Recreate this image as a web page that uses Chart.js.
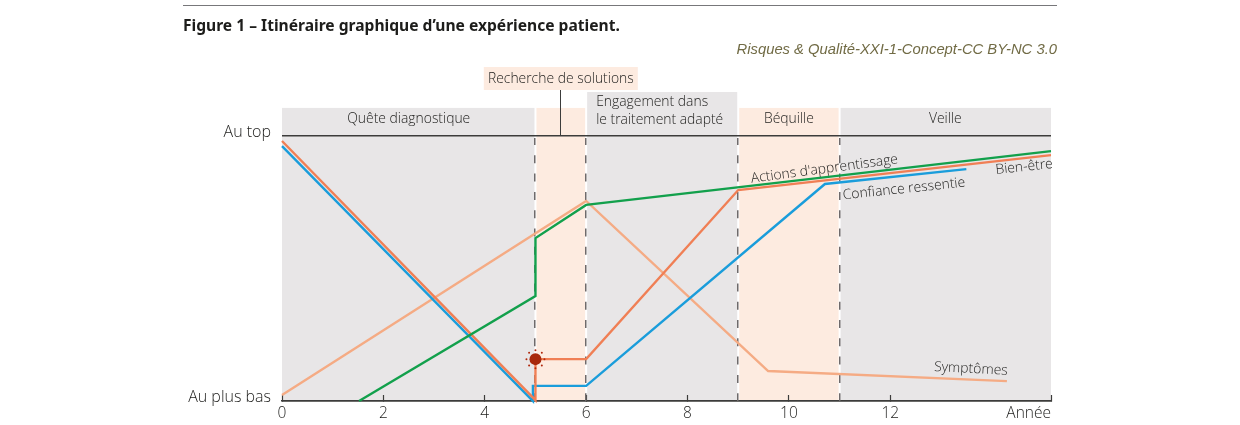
<!DOCTYPE html>
<html lang="fr">
<head>
<meta charset="utf-8">
<title>Itinéraire graphique</title>
<script src="https://cdn.jsdelivr.net/npm/chart.js@4"></script>
<style>
	body { margin: 0; background: #fff; }
	#wrap { position: relative; width: 1240px; height: 425px; overflow: hidden; }
	#rule { position: absolute; left: 183px; top: 5px; width: 874px; height: 1px; background: #77777a; }
	#fig { position: absolute; left: 183px; top: 14px; font: 700 15.6px 'Noto Sans', sans-serif; line-height: 22px; color: #1d1d1b; white-space: nowrap; }
	#src { position: absolute; right: 183px; top: 40px; font: italic 14.8px 'Liberation Sans', sans-serif; line-height: 18px; color: #716b45; white-space: nowrap; }
	canvas { position: absolute; left: 0; top: 0; }
</style>
</head>
<body>
<div id="wrap">
	<canvas id="myChart" width="1240" height="425"></canvas>
	<div id="rule"></div>
	<div id="fig">Figure 1 – Itinéraire graphique d’une expérience patient.</div>
	<div id="src">Risques &amp; Qualité-XXI-1-Concept-CC BY-NC 3.0</div>
</div>
<script>
// values: x in years, y from 0 (au plus bas) to 100 (au top)
const xTicks = [0, 2, 4, 6, 8, 10, 12, 15.17];
const yTicks = [0, 100];
const yLabels = ['Au plus bas', 'Au top'];
const xTitle = 'Année';

const actionsX = [1.52, 5, 5, 6, 15.17];
const actionsY = [0, 39.6, 61.5, 74, 94.3];
const bienEtreX = [0, 5, 5, 6, 9, 15.17];
const bienEtreY = [98.1, 0.3, 15.8, 15.8, 79.6, 92.8];
const confianceX = [0, 4.95, 4.95, 6, 10.71, 13.5];
const confianceY = [96.2, 0, 5.7, 5.7, 81.9, 87.5];
const symptomesX = [0, 6, 9.59, 14.3];
const symptomesY = [2.3, 75.5, 11.3, 7.5];
const eventX = [5];
const eventY = [15.8];

const phaseNames = ['Quête diagnostique', 'Recherche de solutions', 'Engagement dans|le traitement adapté', 'Béquille', 'Veille'];
const phaseStart = [0, 5, 6, 9, 11];
const phaseEnd = [5, 6, 9, 11, 15.17];
const phaseTop = [110.6, 110.6, 116.6, 110.6, 110.6];
const dashedAt = [5, 6, 9, 11];

const curveNames = ["Actions d'apprentissage", 'Confiance ressentie', 'Bien-être', 'Symptômes'];
const curveNameX = [10.7, 12.27, 14.64, 13.59];
const curveNameY = [87.5, 80, 88.3, 12.1];
const curveNameAngle = [-7.5, -6, -6, 3];

const GREY = '#e8e6e7';
const PEACH = '#fdebe0';
const INK = '#3c3c3b';
const TEXT = '#1d1d1b';
const FONT = "'Open Sans', sans-serif";

function zip(xs, ys) {
	return xs.map((x, i) => ({ x: x, y: ys[i] }));
}

function lineSet(label, xs, ys, color) {
	return {
		label: label,
		data: zip(xs, ys),
		borderColor: color,
		borderWidth: 2.4,
		pointRadius: 0,
		tension: 0,
		fill: false,
		clip: 6,
		borderJoinStyle: 'miter',
	};
}

function text(ctx, str, x, y, align) {
	ctx.textAlign = align || 'center';
	ctx.textBaseline = 'middle';
	ctx.fillText(str, x, y);
}

const phasePlugin = {
	id: 'phases',
	beforeDraw(chart) {
		const { ctx, scales: { x, y } } = chart;
		const bottom = y.getPixelForValue(0);
		ctx.save();
		phaseNames.forEach((name, i) => {
			const left = x.getPixelForValue(phaseStart[i]);
			const right = x.getPixelForValue(phaseEnd[i]);
			const top = y.getPixelForValue(phaseTop[i]);
			ctx.fillStyle = i === 1 || i === 3 ? PEACH : GREY;
			ctx.fillRect(left + (i ? 1 : 0), top, right - left - (i ? 1 : 0) - (i < 4 ? 1 : 0), bottom - top);
		});
		ctx.restore();
	},
	beforeDatasetsDraw(chart) {
		const { ctx, scales: { x, y } } = chart;
		const top = y.getPixelForValue(100);
		const bottom = y.getPixelForValue(0);
		ctx.save();
		ctx.strokeStyle = '#6e6a6b';
		ctx.lineWidth = 1.5;
		ctx.setLineDash([8, 10.3]);
		ctx.lineDashOffset = 1;
		dashedAt.forEach((v) => {
			const px = Math.round(x.getPixelForValue(v)) - 0.25;
			ctx.beginPath();
			ctx.moveTo(px, top + 2);
			ctx.lineTo(px, bottom);
			ctx.stroke();
		});
		ctx.restore();
	},
	afterDatasetsDraw(chart) {
		const { ctx, scales: { x, y } } = chart;
		ctx.save();

		// label box for the second phase and its connector
		const mid = x.getPixelForValue((phaseStart[1] + phaseEnd[1]) / 2);
		ctx.fillStyle = PEACH;
		ctx.fillRect(mid - 77, 67, 154, 23);
		ctx.strokeStyle = INK;
		ctx.lineWidth = 1;
		ctx.beginPath();
		ctx.moveTo(Math.round(mid) - 0.5, 90);
		ctx.lineTo(Math.round(mid) - 0.5, y.getPixelForValue(100));
		ctx.stroke();

		ctx.fillStyle = TEXT;
		ctx.font = `300 13.9px ${FONT}`;
		text(ctx, phaseNames[0], x.getPixelForValue((phaseStart[0] + phaseEnd[0]) / 2), 119);
		text(ctx, phaseNames[1], mid, 79);
		const lines = phaseNames[2].split('|');
		text(ctx, lines[0], x.getPixelForValue(phaseStart[2]) + 10, 102, 'left');
		text(ctx, lines[1], x.getPixelForValue(phaseStart[2]) + 10, 120, 'left');
		text(ctx, phaseNames[3], x.getPixelForValue((phaseStart[3] + phaseEnd[3]) / 2), 119);
		text(ctx, phaseNames[4], x.getPixelForValue((phaseStart[4] + phaseEnd[4]) / 2), 119);

		// names written along the curves
		curveNames.forEach((name, i) => {
			ctx.save();
			ctx.translate(x.getPixelForValue(curveNameX[i]), y.getPixelForValue(curveNameY[i]));
			ctx.rotate(curveNameAngle[i] * Math.PI / 180);
			text(ctx, name, 0, 0);
			ctx.restore();
		});

		// rays round the event marker
		const ex = x.getPixelForValue(eventX[0]);
		const ey = y.getPixelForValue(eventY[0]);
		ctx.fillStyle = '#b0280c';
		for (let k = 0; k < 8; k++) {
			const a = k * Math.PI / 4;
			ctx.beginPath();
			ctx.arc(ex + 9 * Math.cos(a), ey + 9 * Math.sin(a), 1, 0, Math.PI * 2);
			ctx.fill();
		}
		ctx.restore();
	},
};

new Chart(document.getElementById('myChart').getContext('2d'), {
	type: 'line',
	data: {
		datasets: [
			{
				label: 'Événement',
				data: zip(eventX, eventY),
				pointRadius: 6,
				pointBackgroundColor: '#a8280b',
				pointBorderWidth: 0,
				showLine: false,
			},
			lineSet(curveNames[0], actionsX, actionsY, '#12a04c'),
			lineSet(curveNames[2], bienEtreX, bienEtreY, '#f07f55'),
			lineSet(curveNames[1], confianceX, confianceY, '#1a9ddb'),
			lineSet(curveNames[3], symptomesX, symptomesY, '#f5ab84'),
		],
	},
	options: {
		responsive: false,
		animation: false,
		layout: { padding: { left: 182, right: 189, top: 136, bottom: 0 } },
		plugins: {
			legend: { display: false },
			tooltip: { enabled: false },
			title: { display: false },
		},
		scales: {
			x: {
				type: 'linear',
				min: 0,
				max: 15.17,
				afterBuildTicks(scale) {
					scale.ticks = xTicks.map((v) => ({ value: v }));
				},
				afterFit(scale) {
					scale.height = 24;
				},
				border: { color: INK, width: 1.6 },
				grid: { drawOnChartArea: false, tickLength: -6, color: INK, tickWidth: 1.2 },
				ticks: {
					maxRotation: 0,
					autoSkip: false,
					padding: 9,
					color: TEXT,
					font: { family: FONT, size: 15.5, weight: 300 },
					callback: (v) => (v === xTicks[xTicks.length - 1] ? '' : v),
				},
				title: {
					display: true,
					text: xTitle,
					align: 'end',
					color: TEXT,
					font: { family: FONT, size: 15.5, weight: 300 },
					padding: { top: 0, bottom: 2 },
				},
			},
			y: {
				min: 0,
				max: 100,
				afterBuildTicks(scale) {
					scale.ticks = yTicks.map((v) => ({ value: v }));
				},
				afterFit(scale) {
					scale.width = 100;
				},
				border: { display: false },
				grid: { color: INK, lineWidth: 1.6, drawTicks: false },
				ticks: {
					padding: 11,
					labelOffset: -4,
					color: TEXT,
					font: { family: FONT, size: 16, weight: 300 },
					callback: (v) => yLabels[yTicks.indexOf(v)],
				},
			},
		},
	},
	plugins: [phasePlugin],
});
</script>
</body>
</html>
